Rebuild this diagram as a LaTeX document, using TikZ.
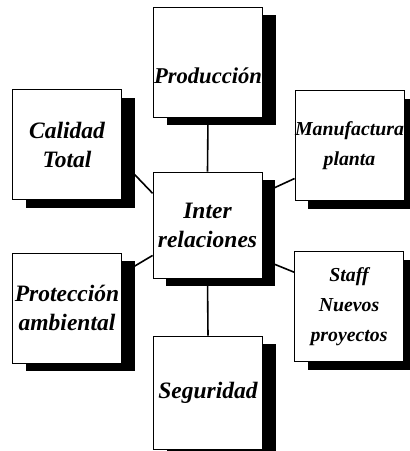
\documentclass[tikz,border=0pt]{standalone}
\usepackage{fontspec}
\setmainfont{Liberation Serif}
\usetikzlibrary{shadows}

\begin{document}
\begin{tikzpicture}[x=1pt, y=-1pt,
  font=\fontsize{23.5}{29}\selectfont\bfseries\itshape,
  box/.style={draw, line width=0.8pt, fill=white, minimum width=109pt,
    minimum height=110pt, inner sep=0pt, align=center,
    drop shadow={shadow xshift=13pt, shadow yshift=-8pt, fill=black, opacity=1}},
  small/.style={font=\fontsize{19.8}{30}\selectfont\bfseries\itshape},
  link/.style={line width=1.6pt}]
  \useasboundingbox (0,0) rectangle (410,451);
  % boxes
  \node[box, font=\fontsize{22.6}{29}\selectfont\bfseries\itshape,
    text height=42pt, text depth=0pt] (prod) at (208,62) {Producción};
  \node[box] (cal) at (67,144.5) {Calidad\\Total};
  \node[box, small] (manu) at (349.5,145.5) {Manufactura\\planta};
  \node[box, minimum height=106pt] (inter) at (207.5,225) {Inter\\relaciones};
  \node[box] (prot) at (67,308) {Protección\\ambiental};
  \node[box, small, text depth=4pt] (staff) at (349,306.5) {Staff\\Nuevos\\proyectos};
  \node[box, minimum height=113pt] (seg) at (208,392.5) {Seguridad};
  % links to the centre
  \draw[link] (inter.north) -- (prod.south);
  \draw[link] (inter.south) -- (seg.north);
  \draw[link] (inter.150) -- (cal.-17);
  \draw[link] (inter.30) -- (manu.211);
  \draw[link] (inter.209) -- (prot.32);
  \draw[link] (inter.-32) -- (staff.148);
\end{tikzpicture}
\end{document}
